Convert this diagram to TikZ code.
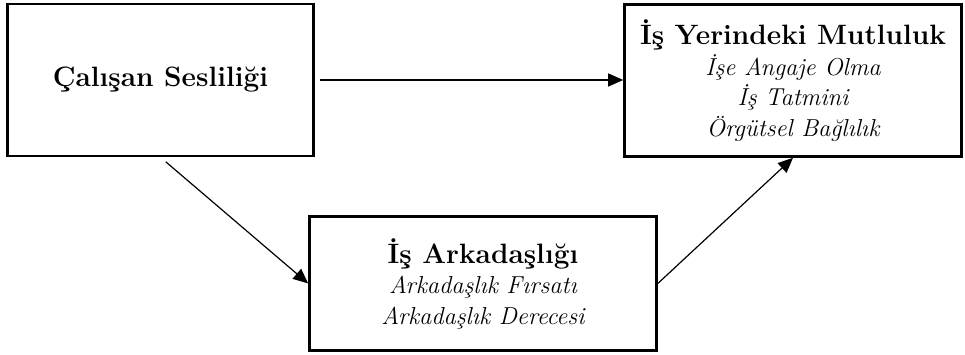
\documentclass[tikz,border=0pt]{standalone}
\usepackage{fontspec}
\usetikzlibrary{arrows.meta}
\begin{document}
\begin{tikzpicture}[x=1pt,y=-1pt,
  box/.style={draw=black,line width=2.6pt,rectangle,inner sep=0pt,align=center,
    font=\fontsize{24.5}{30.5}\selectfont\itshape},
  ttl/.style={},
  conn/.style={draw=black,line width=1.2pt,-{Triangle[length=15pt,width=13pt]}}]
\newcommand{\ttltext}[1]{{\fontsize{28}{30.5}\selectfont\upshape\bfseries #1}}
\useasboundingbox (0,0) rectangle (965,355);
\node[box,minimum width=306pt,minimum height=152pt] (L) at (160.5,80)
  {\ttltext{Çalışan Sesliliği}};
\node[box,minimum width=337pt,minimum height=152pt] (R) at (793,80.5)
  {\ttltext{İş Yerindeki Mutluluk}\\ İşe Angaje Olma\\ İş Tatmini\\ Örgütsel Bağlılık};
\node[box,minimum width=347pt,minimum height=134pt] (B) at (483,283.5)
  {\ttltext{İş Arkadaşlığı}\\ Arkadaşlık Fırsatı\\ Arkadaşlık Derecesi};
\draw[conn,shorten <=5pt] (L.east) -- (L.east -| R.west);
\draw[conn,shorten <=7pt] (L.south) -- (B.west);
\draw[conn] (B.east) -- (R.south);
\end{tikzpicture}
\end{document}
